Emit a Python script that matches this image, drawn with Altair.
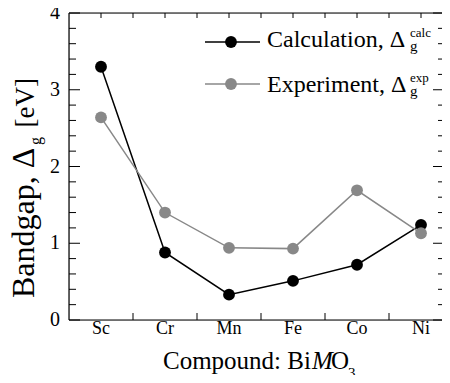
import altair as alt
import pandas as pd

# ---- data ----
compounds = ["Sc", "Cr", "Mn", "Fe", "Co", "Ni"]
calc_gap = [3.30, 0.88, 0.33, 0.51, 0.72, 1.24]
exp_gap = [2.64, 1.40, 0.94, 0.93, 1.69, 1.13]

y_major = [0, 1, 2, 3, 4]
y_minor = [0.2, 0.4, 0.6, 0.8, 1.2, 1.4, 1.6, 1.8, 2.2, 2.4, 2.6, 2.8,
           3.2, 3.4, 3.6, 3.8]
x_bottom_ticks = [0.5, 1.5, 2.5, 3.5, 4.5]
x_top_ticks = [0, 0.5, 1, 1.5, 2, 2.5, 3, 3.5, 4, 4.5, 5]

legend_main = ["Calculation, Δ", "Experiment, Δ"]
legend_sup = ["calc", "exp"]

FONT = "Liberation Serif"
GREY = "#888888"
W, H = 373, 307

df = pd.DataFrame({"idx": list(range(len(compounds))), "compound": compounds,
                   "calc": calc_gap, "exp": exp_gap})
one = pd.DataFrame({"a": [0]})

xscale = alt.Scale(domain=[-0.5, 5.328], nice=False, zero=False)
yscale = alt.Scale(domain=[0, 4], nice=False, zero=False)

base = alt.Chart(df)
X = alt.X("idx:Q", scale=xscale, axis=None)

calc_line = base.mark_line(color="black", strokeWidth=1.5).encode(
    x=X, y=alt.Y("calc:Q", scale=yscale, axis=None))
calc_pts = base.mark_point(filled=True, size=140, color="black", opacity=1).encode(
    x=X, y=alt.Y("calc:Q", scale=yscale, axis=None))
exp_line = base.mark_line(color=GREY, strokeWidth=1.5).encode(
    x=X, y=alt.Y("exp:Q", scale=yscale, axis=None))
exp_pts = base.mark_point(filled=True, size=140, color=GREY, opacity=1).encode(
    x=X, y=alt.Y("exp:Q", scale=yscale, axis=None))

# tick labels, placed through the same scales
x_labels = base.mark_text(font=FONT, fontSize=18, color="black", align="center",
                          baseline="alphabetic").encode(
    x=X, y=alt.value(H + 14), text="compound:N")
y_labels = alt.Chart(pd.DataFrame({"v": y_major})).mark_text(
    font=FONT, fontSize=20, color="black", align="right", baseline="middle").encode(
    y=alt.Y("v:Q", scale=yscale, axis=None), x=alt.value(-9), text=alt.Text("v:Q", format="d"))


def yticks(vals, x0, x1):
    return alt.Chart(pd.DataFrame({"v": vals})).mark_rule(color="black", strokeWidth=1).encode(
        y=alt.Y("v:Q", scale=yscale, axis=None), x=alt.value(x0), x2=alt.value(x1))


def xticks(vals, y0, y1):
    return alt.Chart(pd.DataFrame({"v": vals})).mark_rule(color="black", strokeWidth=1).encode(
        x=alt.X("v:Q", scale=xscale, axis=None), y=alt.value(y0), y2=alt.value(y1))


ticks = [
    yticks(y_major, 0, 11), yticks(y_minor, 0, 7),
    yticks(y_major, W - 9, W), yticks(y_minor, W - 4, W),
    xticks(x_bottom_ticks, H, H - 7), xticks(x_top_ticks, 0, 5),
]

# frame: left, bottom and top lines (the right one lies past the picture's edge)
frame = [
    alt.Chart(one).mark_rule(color="black", strokeWidth=1.2).encode(
        x=alt.value(0), y=alt.value(0), y2=alt.value(H)),
    alt.Chart(one).mark_rule(color="black", strokeWidth=1.2).encode(
        x=alt.value(0), x2=alt.value(W), y=alt.value(H)),
    alt.Chart(one).mark_rule(color="black", strokeWidth=1.2).encode(
        x=alt.value(0), x2=alt.value(W), y=alt.value(0)),
]


def txt(t, x, y, size, angle=0, align="left", style="normal"):
    return alt.Chart(one).mark_text(
        text=t, font=FONT, fontSize=size, align=align, baseline="alphabetic",
        angle=angle, fontStyle=style, color="black").encode(
        x=alt.value(x), y=alt.value(y))


texts = [
    # y title
    txt("Bandgap, Δ", -35, 285, 32, angle=270),
    txt("g", -28, 132, 16, angle=270),
    txt("[eV]", -35, 65, 27, angle=270, align="right"),
    # x title
    txt("Compound: Bi", 94, 356, 25),
    txt("M", 243, 356, 25, style="italic"),
    txt("O", 262, 356, 25),
    txt("3", 279, 365, 15),
]

legend = []
for i, (main, sup, col) in enumerate(zip(legend_main, legend_sup, ["black", GREY])):
    ly = 29 + 42 * i
    tb = 34 + 45 * i
    legend.append(alt.Chart(one).mark_rule(color=col, strokeWidth=1.5).encode(
        x=alt.value(136), x2=alt.value(191), y=alt.value(ly)))
    legend.append(alt.Chart(one).mark_point(filled=True, size=140, color=col, opacity=1).encode(
        x=alt.value(162), y=alt.value(ly)))
    legend.append(txt(main, 198, tb, 24))
    legend.append(txt(sup, 341, tb - 10, 13))
    legend.append(txt("g", 341, tb + 4, 15))

chart = alt.layer(
    calc_line, calc_pts, exp_line, exp_pts, x_labels, y_labels, *ticks, *frame,
    *texts, *legend
).properties(
    width=W, height=H,
    autosize="none",
    padding={"left": 61, "top": 5, "right": 0, "bottom": 55},
).configure_view(stroke=None).configure(background="white")

chart.save("out.html", embed_options={"renderer": "svg", "actions": False})
